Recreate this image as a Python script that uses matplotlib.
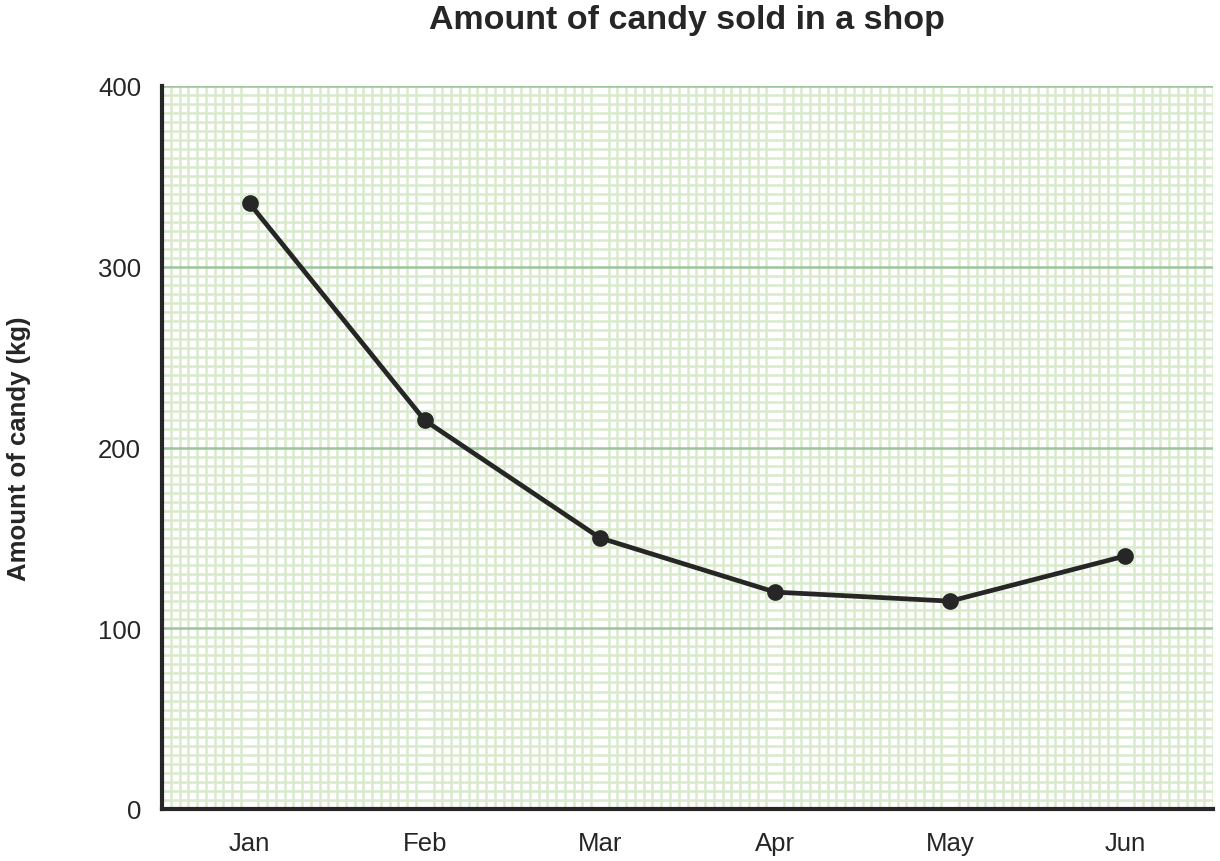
import matplotlib
matplotlib.use("Agg")
import matplotlib.pyplot as plt
import numpy as np
from matplotlib.ticker import MultipleLocator

months = ["Jan", "Feb", "Mar", "Apr", "May", "Jun"]
candy_kg = [335, 215, 150, 120, 115, 140]
y_ticks = [0, 100, 200, 300, 400]

plt.rcParams['font.family'] = ['Liberation Sans', 'DejaVu Sans']

fig = plt.figure(figsize=(12.2, 8.62), dpi=100)
ax = fig.add_axes([162/1220, 52/862, 1051/1220, 723/862])

x = np.arange(len(months))
ax.set_xlim(-0.5, len(months) - 0.5)
ax.set_ylim(0, 400)

ax.xaxis.set_minor_locator(MultipleLocator(0.05))
ax.yaxis.set_minor_locator(MultipleLocator(5))
ax.grid(which='minor', color='#d9ebcc', linewidth=1.8, zorder=0)
ax.yaxis.grid(True, which='major', color='#9dc49d', linewidth=1.8, zorder=1)
ax.xaxis.grid(False, which='major')
ax.set_axisbelow(True)

ax.plot(x, candy_kg, color='#262626', linewidth=3.4, marker='o',
        markersize=11, zorder=5, clip_on=False)

ax.set_xticks(x)
ax.set_xticklabels(months)
ax.set_yticks(y_ticks)
ax.tick_params(axis='both', which='both', length=0, labelsize=18.5,
               labelcolor='#262626')
ax.tick_params(axis='x', pad=16)
ax.tick_params(axis='y', pad=15)

for s in ['top', 'right']:
    ax.spines[s].set_visible(False)
for s in ['left', 'bottom']:
    ax.spines[s].set_color('#262626')
    ax.spines[s].set_linewidth(3)

fig.text(19/1220, 1 - 449/862, 'Amount of candy (kg)', rotation=90,
         ha='center', va='center', fontsize=18.5, fontweight='bold',
         color='#262626')
fig.text(687/1220, 1 - 20/862, 'Amount of candy sold in a shop', ha='center',
         va='center', fontsize=24.5, fontweight='bold', color='#262626')

fig.savefig('out.png', dpi=100, facecolor='white')
